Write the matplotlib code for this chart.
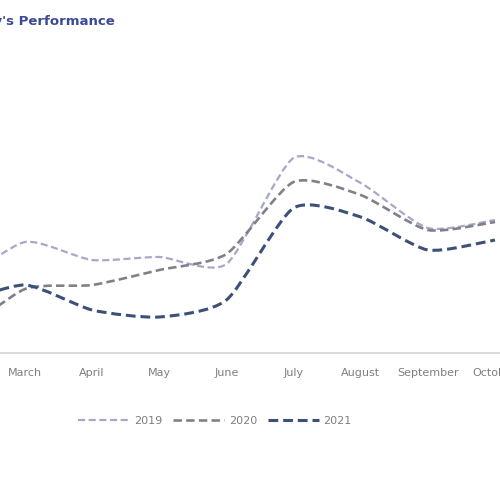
import matplotlib
matplotlib.use("Agg")
import matplotlib.pyplot as plt
from matplotlib.path import Path
from matplotlib.patches import PathPatch
from matplotlib.lines import Line2D

months = ["February", "March", "April", "May", "June", "July", "August", "September", "October"]
series_names = ["2019", "2020", "2021"]
values_2019 = [34.0, 55.5, 46.5, 48.0, 44.5, 97.5, 85.0, 62.5, 66.5]
values_2020 = [8.0, 32.0, 34.0, 41.5, 49.5, 85.5, 79.0, 61.5, 65.5]
values_2021 = [24.5, 34.0, 21.5, 18.0, 26.5, 72.5, 68.0, 51.5, 56.5]

colors = ["#a6a8c9", "#80808a", "#3c5078"]
widths = [1.6, 1.9, 2.2]

fig = plt.figure(figsize=(5, 5), dpi=100)
ax = fig.add_axes([0, 0.294, 1, 0.706])

def smooth_path(xs, ys, k=9.0):
    pts = list(zip(xs, ys))
    n = len(pts)
    verts = [pts[0]]
    codes = [Path.MOVETO]
    for i in range(n - 1):
        p0 = pts[i - 1] if i > 0 else pts[i]
        p1 = pts[i]
        p2 = pts[i + 1]
        p3 = pts[i + 2] if i + 2 < n else pts[i + 1]
        c1 = (p1[0] + (p2[0] - p0[0]) / k, p1[1] + (p2[1] - p0[1]) / k)
        c2 = (p2[0] - (p3[0] - p1[0]) / k, p2[1] - (p3[1] - p1[1]) / k)
        verts += [c1, c2, p2]
        codes += [Path.CURVE4] * 3
    return Path(verts, codes)

xs = list(range(len(months)))
handles = []
for vals, name, c, w in zip([values_2019, values_2020, values_2021], series_names, colors, widths):
    patch = PathPatch(smooth_path(xs, vals), fill=False, edgecolor=c, linewidth=w,
                      linestyle=(0, (3.2, 1.6)), capstyle="butt")
    ax.add_patch(patch)
    handles.append(Line2D([], [], color=c, linewidth=w, linestyle=(0, (3.2, 1.6)), label=name))

ax.set_xticks(xs)
ax.set_xticklabels(months, fontsize=8, color="#7f7f7f")
ax.tick_params(axis="x", length=0, pad=11)
ax.set_yticks([])
ax.set_xlim(1 - 25 / 67.14, 1 + 475 / 67.14)
ax.set_ylim(0, 176.5)
for s in ["top", "left", "right"]:
    ax.spines[s].set_visible(False)
ax.spines["bottom"].set_color("#d9d9d9")
ax.spines["bottom"].set_linewidth(1.3)
ax.patch.set_alpha(0)

fig.text(115 / 500, 1 - 22 / 500, "Company's Performance", ha="right", va="center",
         fontsize=9.5, fontweight="bold", color="#3a4a96")

fig.legend(handles=handles, loc="center", bbox_to_anchor=(215 / 500, 1 - 421 / 500),
           ncol=3, frameon=False, fontsize=8, labelcolor="#7f7f7f",
           handlelength=4.6, columnspacing=1.0, handletextpad=0.4)

fig.savefig("out.png", dpi=100)
